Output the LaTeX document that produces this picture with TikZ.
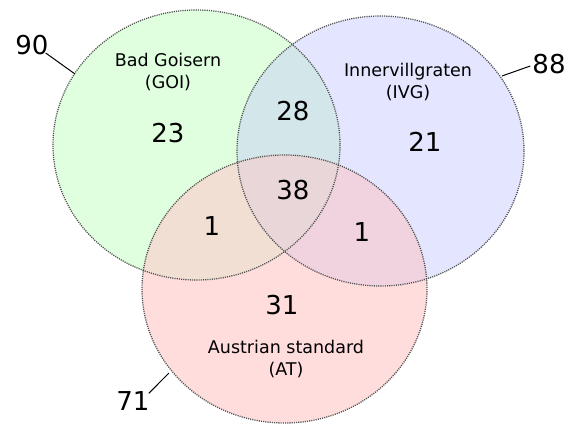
\documentclass[tikz,border=0pt]{standalone}
\usepackage{fontspec}
\setmainfont{DejaVu Sans}
\definecolor{cG}{HTML}{DFFFDF}
\definecolor{cB}{HTML}{E4E6FF}
\definecolor{cR}{HTML}{FFDDDD}
\definecolor{cGB}{HTML}{D3E6E9}
\definecolor{cGR}{HTML}{F0DFD2}
\definecolor{cBR}{HTML}{F1D3DF}
\definecolor{cGBR}{HTML}{E8D6D8}
\definecolor{edge}{HTML}{505050}
\tikzset{
  big/.style={font=\fontsize{26}{28}\selectfont, inner sep=0pt},
  lab/.style={font=\fontsize{17.5}{22}\selectfont, align=center, inner sep=0pt},
  rim/.style={draw=edge, line width=1.3pt, dash pattern=on 1.1pt off 1.1pt},
  lead/.style={draw=black, line width=1pt},
}
\def\green{(196.5,145) ellipse [x radius=143.5, y radius=135]}
\def\blue{(380.5,151) ellipse [x radius=143.5, y radius=135]}
\def\red{(284.5,289) ellipse [x radius=142.5, y radius=134]}
\begin{document}
\begin{tikzpicture}[x=1pt,y=-1pt]
\useasboundingbox (0,0) rectangle (570,423);
% base fills
\fill[cG] \green;
\fill[cB] \blue;
\fill[cR] \red;
\begin{scope}\clip \green; \fill[cGB] \blue; \end{scope}
\begin{scope}\clip \green; \fill[cGR] \red; \end{scope}
\begin{scope}\clip \blue; \fill[cBR] \red; \end{scope}
\begin{scope}\clip \green; \clip \blue; \fill[cGBR] \red; \end{scope}
% outlines
\draw[rim] \green;
\draw[rim] \blue;
\draw[rim] \red;
% set labels
\node[lab] (goi) at (168,72) {Bad Goisern\\(GOI)};
\node[lab] (ivg) at (408,82) {Innervillgraten\\(IVG)};
\node[lab] (at) at (286,359) {Austrian standard\\(AT)};
% subset counts
\node[big] (n23) at (168,133) {23};
\node[big] (n21) at (425,142) {21};
\node[big] (n28) at (293,111) {28};
\node[big] (n38) at (293,190) {38};
\node[big] (n1a) at (212,226) {1};
\node[big] (n1b) at (362,232) {1};
\node[big] (n31) at (282,305) {31};
% totals with leader lines
\node[big] (t90) at (32,45) {90};
\node[big] (t88) at (549,64) {88};
\node[big] (t71) at (133,401) {71};
\coordinate (p90) at (75,74);
\coordinate (p88) at (502,76);
\coordinate (p71) at (169,373);
\draw[lead] (t90.south east) ++(-3,-2) coordinate (s90) -- (p90);
\draw[lead] (t88.west) ++(-2,2) coordinate (s88) -- (p88);
\draw[lead] (t71.north east) ++(-1,2) coordinate (s71) -- (p71);
\end{tikzpicture}
\end{document}
